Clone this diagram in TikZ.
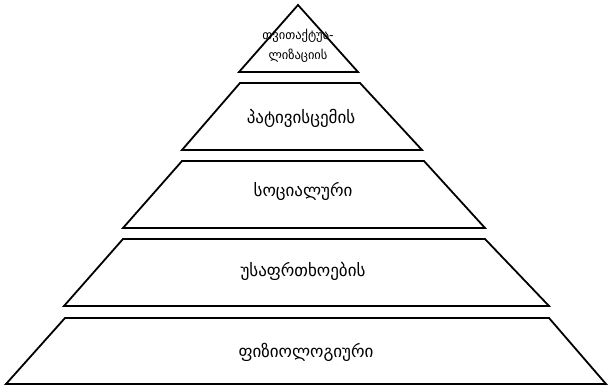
\documentclass[tikz,border=0pt]{standalone}
\usepackage{fontspec}
\newfontfamily\geo[Script=Georgian]{DejaVu Sans}
\begin{document}
\begin{tikzpicture}[x=1pt,y=-1pt,
  level/.style={draw=black,line width=1.8pt,line join=miter},
  lbl/.style={font=\geo\fontsize{17}{19}\selectfont,inner sep=0pt,align=center},
  toplbl/.style={font=\geo\fontsize{12.5}{20}\selectfont,inner sep=0pt,align=center}]
\useasboundingbox (0,0) rectangle (608,387);
% top triangle
\draw[level] (298,5) -- (358,72) -- (239,72) -- cycle;
\draw[level] (240,83) -- (360,83) -- (422,150) -- (182,150) -- cycle;
\draw[level] (182,161) -- (424,161) -- (485,228) -- (123,228) -- cycle;
\draw[level] (123,239) -- (485,239) -- (549,306) -- (64,306) -- cycle;
\draw[level] (65,318) -- (549,318) -- (606,384) -- (6,384) -- cycle;
\node[toplbl] (t1) at (298,46) {თვითაქტუა-\\ლიზაციის};
\node[lbl] (t2) at (301,118) {პატივისცემის};
\node[lbl] (t3) at (303,191) {სოციალური};
\node[lbl] (t4) at (303,271) {უსაფრთხოების};
\node[lbl] (t5) at (306,352) {ფიზიოლოგიური};
\end{tikzpicture}
\end{document}
